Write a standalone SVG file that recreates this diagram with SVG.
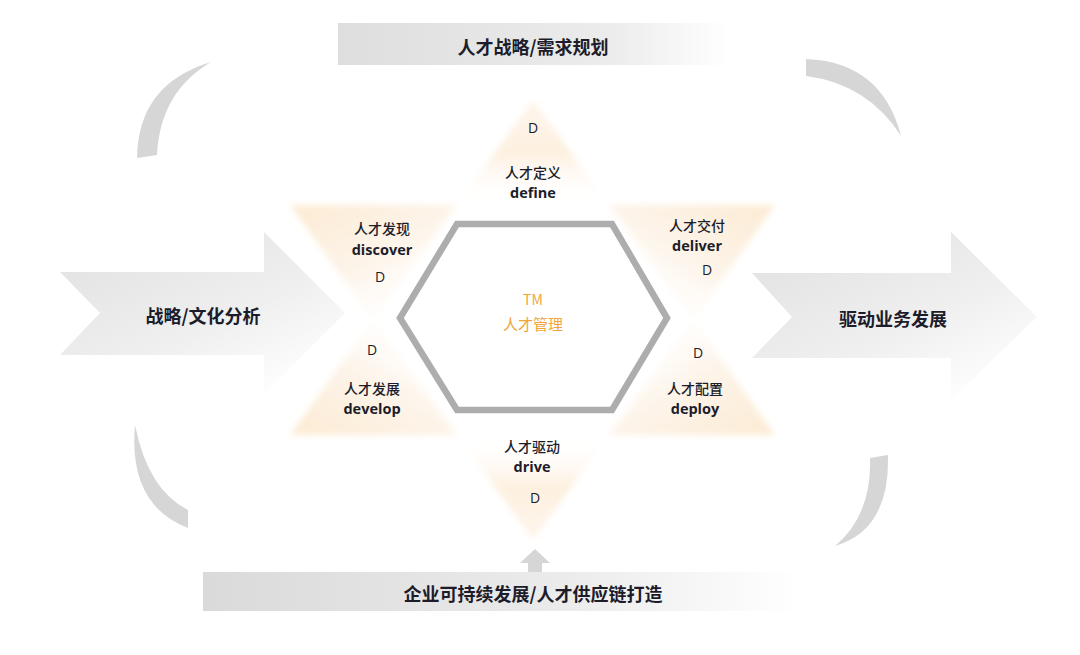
<svg xmlns="http://www.w3.org/2000/svg" width="1080" height="655" viewBox="0 0 1080 655">
<style>
.cn{font-family:"Noto Sans CJK SC","Noto Sans",sans-serif;fill:#1c1c2a;text-anchor:middle}
.en{font-family:"Open Sans","Noto Sans",sans-serif;font-weight:bold;fill:#1c1c2a;text-anchor:middle;font-size:14.5px}
.d{font-family:"Open Sans","Noto Sans",sans-serif;fill:#1c1c2a;text-anchor:middle;font-size:14px}
.lbl{font-size:14px;font-weight:500}
.big{font-size:18px;font-weight:bold}
.arc{fill:#d6d6d6}
</style>
<defs>
<linearGradient id="bannerTop" x1="0" y1="0" x2="1" y2="0">
<stop offset="0" stop-color="#dedede"/><stop offset="0.7" stop-color="#ececec"/><stop offset="1" stop-color="#ffffff"/>
</linearGradient>
<linearGradient id="bannerBot" x1="0" y1="0" x2="1" y2="0">
<stop offset="0" stop-color="#dadada"/><stop offset="0.6" stop-color="#ebebeb"/><stop offset="1" stop-color="#ffffff"/>
</linearGradient>
<linearGradient id="arrowG" x1="0" y1="0" x2="0.8" y2="1">
<stop offset="0" stop-color="#e0e0e0"/><stop offset="0.6" stop-color="#efefef"/><stop offset="1" stop-color="#ffffff"/>
</linearGradient>
<linearGradient id="tTop" x1="0" y1="0" x2="0" y2="1">
<stop offset="0" stop-color="#fef6ec"/><stop offset="0.5" stop-color="#fdf0df"/><stop offset="1" stop-color="#ffffff" stop-opacity="0"/>
</linearGradient>
<linearGradient id="tUL" x1="0" y1="0" x2="0.9" y2="1">
<stop offset="0" stop-color="#fcebd3"/><stop offset="0.5" stop-color="#fdf4e9"/><stop offset="1" stop-color="#ffffff" stop-opacity="0"/>
</linearGradient>
<linearGradient id="tUR" x1="1" y1="0" x2="0.1" y2="1">
<stop offset="0" stop-color="#fcebd3"/><stop offset="0.5" stop-color="#fdf4e9"/><stop offset="1" stop-color="#ffffff" stop-opacity="0"/>
</linearGradient>
<linearGradient id="tLL" x1="0" y1="1" x2="0.9" y2="0">
<stop offset="0" stop-color="#fcebd3"/><stop offset="0.5" stop-color="#fdf4e9"/><stop offset="1" stop-color="#ffffff" stop-opacity="0"/>
</linearGradient>
<linearGradient id="tLR" x1="1" y1="1" x2="0.1" y2="0">
<stop offset="0" stop-color="#fcebd3"/><stop offset="0.5" stop-color="#fdf4e9"/><stop offset="1" stop-color="#ffffff" stop-opacity="0"/>
</linearGradient>
<linearGradient id="tBot" x1="0" y1="1" x2="0" y2="0">
<stop offset="0" stop-color="#fef6ec"/><stop offset="0.5" stop-color="#fdf0df"/><stop offset="1" stop-color="#ffffff" stop-opacity="0"/>
</linearGradient>
<filter id="soft" x="-10%" y="-10%" width="120%" height="120%"><feGaussianBlur stdDeviation="3"/></filter>
</defs>
<rect width="1080" height="655" fill="#ffffff"/>

<g id="arcs">
<path class="arc" d="M137,158 Q138,84 211,62 Q160,92 157,155 Z"/>
<path class="arc" d="M806,59 Q882,62 901,136 Q868,84 806,76 Z"/>
<path class="arc" d="M135,425 Q128,505 188,528 L188,510 Q148,490 135,425 Z"/>
<path class="arc" d="M888,455 Q890,530 835,546 Q872,515 870,458 Z"/>
</g>

<g id="banner-top">
<rect x="338" y="23" width="392" height="42" fill="url(#bannerTop)"/>
<text class="cn big" x="533" y="54">人才战略/需求规划</text>
</g>

<g id="banner-bottom">
<path d="M520,563 L535,549 L550,563 L542,563 L542,573 L528,573 L528,563 Z" fill="#d6d6d6"/>
<rect x="203" y="572" width="597" height="39" fill="url(#bannerBot)"/>
<text class="cn big" x="533" y="601">企业可持续发展/人才供应链打造</text>
</g>

<g id="arrow-left">
<path d="M60,272 L264,272 L264,232 L345,313 L264,394 L264,355 L60,355 L100,313 Z" fill="url(#arrowG)"/>
<text class="cn big" x="203" y="323">战略/文化分析</text>
</g>

<g id="arrow-right">
<path d="M752,273 L951,273 L951,232 L1037,317 L951,400 L951,358 L752,358 L792,317 Z" fill="url(#arrowG)"/>
<text class="cn big" x="893" y="326">驱动业务发展</text>
</g>

<g id="tips" filter="url(#soft)">
<polygon points="533,100 609,205 457,205" fill="url(#tTop)"/>
<polygon points="290,205 457,205 373,320" fill="url(#tUL)"/>
<polygon points="775,205 609,205 693,320" fill="url(#tUR)"/>
<polygon points="290,435 373,320 457,435" fill="url(#tLL)"/>
<polygon points="775,435 693,320 609,435" fill="url(#tLR)"/>
<polygon points="533,540 457,435 609,435" fill="url(#tBot)"/>
</g>

<g id="hexagon">
<polygon points="457,224 612,224 667,318 612,410 457,410 400,318" fill="none" stroke="#adadad" stroke-width="6.5" stroke-linejoin="miter"/>
<text x="533" y="305" text-anchor="middle" font-family="Noto Sans CJK SC, Noto Sans, sans-serif" font-size="14" fill="#f0a53a">TM</text>
<text x="533" y="330" text-anchor="middle" font-family="Noto Sans CJK SC, Noto Sans, sans-serif" font-size="15" fill="#f0a53a">人才管理</text>
</g>

<g id="node-define">
<text class="d" x="533" y="133">D</text>
<text class="cn lbl" x="533" y="178">人才定义</text>
<text class="en" x="533" y="198">define</text>
</g>
<g id="node-discover">
<text class="cn lbl" x="382" y="234">人才发现</text>
<text class="en" x="382" y="255">discover</text>
<text class="d" x="380" y="282">D</text>
</g>
<g id="node-deliver">
<text class="cn lbl" x="697" y="231">人才交付</text>
<text class="en" x="697" y="251">deliver</text>
<text class="d" x="707" y="275">D</text>
</g>
<g id="node-develop">
<text class="d" x="372" y="355">D</text>
<text class="cn lbl" x="372" y="394">人才发展</text>
<text class="en" x="372" y="414">develop</text>
</g>
<g id="node-deploy">
<text class="d" x="698" y="358">D</text>
<text class="cn lbl" x="695" y="394">人才配置</text>
<text class="en" x="695" y="414">deploy</text>
</g>
<g id="node-drive">
<text class="cn lbl" x="532" y="452">人才驱动</text>
<text class="en" x="532" y="472">drive</text>
<text class="d" x="535" y="503">D</text>
</g>
</svg>
